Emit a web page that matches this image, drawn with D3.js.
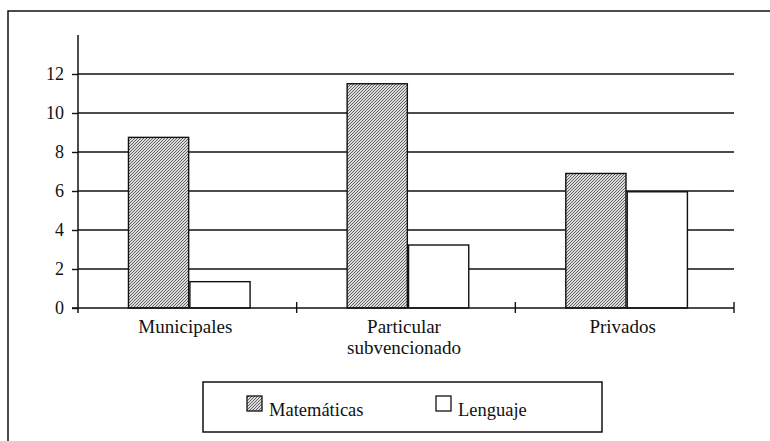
<!DOCTYPE html>
<html><head><meta charset="utf-8">
<script src="https://cdn.jsdelivr.net/npm/d3@7"></script>
<style>body{margin:0;background:#fff}svg{display:block}</style>
</head><body>
<script>
const categories = [["Municipales"], ["Particular", "subvencionado"], ["Privados"]];
const categoryKeys = ["Municipales", "Particular subvencionado", "Privados"];
const seriesNames = ["Matemáticas", "Lenguaje"];
const matematicas = [8.75, 11.5, 6.9];
const lenguaje = [1.35, 3.23, 5.96];
const yTicks = [0, 2, 4, 6, 8, 10, 12];

const FONT = '"Liberation Serif"';
const W = 770, H = 441;
const svg = d3.select("body").append("svg").attr("width", W).attr("height", H);
const defs = svg.append("defs");
const pat = defs.append("pattern").attr("id", "hatch").attr("patternUnits", "userSpaceOnUse")
  .attr("width", 3).attr("height", 3);
pat.append("rect").attr("width", 3).attr("height", 3).attr("fill", "#dcdcdc");
pat.append("path").attr("d", "M-1,1 l2,-2 M0,3 l3,-3 M2,4 l2,-2").attr("stroke", "#555").attr("stroke-width", 0.9);

// outer frame
svg.append("rect").attr("x", 8).attr("y", 11).attr("width", 800).attr("height", 500)
  .attr("fill", "none").attr("stroke", "#111").attr("stroke-width", 1.5);

const pLeft = 78, pRight = 734, pTop = 35, pBottom = 308;
const y = d3.scaleLinear().domain([0, 14]).range([pBottom, pTop]);
const x0 = d3.scaleBand().domain(categoryKeys).range([pLeft, pRight]).paddingInner(0).paddingOuter(0);
const x1 = d3.scaleBand().domain(seriesNames).range([0, x0.bandwidth()]).paddingInner(0.02).paddingOuter(0.79).align(0.52);

// gridlines
svg.append("g").selectAll("line").data(yTicks.filter(d => d > 0)).join("line")
  .attr("x1", pLeft).attr("x2", pRight).attr("y1", d => y(d)).attr("y2", d => y(d))
  .attr("stroke", "#111").attr("stroke-width", 1.4);

// bars
const data = categoryKeys.map((c, i) => ({ c, vals: [matematicas[i], lenguaje[i]] }));
const g = svg.append("g");
data.forEach(d => {
  g.selectAll(null).data(d.vals.map((v, j) => ({ s: seriesNames[j], v }))).join("rect")
    .attr("x", e => x0(d.c) + x1(e.s))
    .attr("width", x1.bandwidth())
    .attr("y", e => y(e.v))
    .attr("height", e => y(0) - y(e.v))
    .attr("fill", e => e.s === seriesNames[0] ? "url(#hatch)" : "#fff")
    .attr("stroke", "#111").attr("stroke-width", 1.4);
});

// y axis
const yAxis = d3.axisLeft(y).tickValues(yTicks).tickSize(6).tickPadding(8).tickFormat(d3.format("d"));
const ya = svg.append("g").attr("transform", `translate(${pLeft},0)`).call(yAxis);
ya.attr("font-family", null);
ya.select(".domain").remove();
ya.selectAll(".tick line").attr("stroke", "#111").attr("stroke-width", 1.4);
ya.selectAll("text").style("font-family", FONT).attr("font-size", 18).attr("fill", "#111");
svg.append("line").attr("x1", pLeft).attr("x2", pLeft).attr("y1", pTop).attr("y2", pBottom + 5)
  .attr("stroke", "#111").attr("stroke-width", 1.5);

// x axis
svg.append("line").attr("x1", pLeft - 6).attr("x2", pRight).attr("y1", pBottom).attr("y2", pBottom)
  .attr("stroke", "#111").attr("stroke-width", 1.5);
const bounds = categoryKeys.map(c => x0(c) + x0.bandwidth());
svg.append("g").selectAll("line").data(bounds).join("line")
  .attr("x1", d => d).attr("x2", d => d).attr("y1", pBottom - 6).attr("y2", pBottom + 5)
  .attr("stroke", "#111").attr("stroke-width", 1.4);
svg.append("g").selectAll("text").data(categoryKeys).join("text")
  .attr("x", c => x0(c) + x0.bandwidth() / 2).attr("y", 333)
  .attr("text-anchor", "middle").style("font-family", FONT).attr("font-size", 19).attr("fill", "#111")
  .each(function(c, i) {
    d3.select(this).selectAll("tspan").data(categories[i]).join("tspan")
      .attr("x", x0(c) + x0.bandwidth() / 2 - 2).attr("dy", (t, k) => k === 0 ? 0 : 21).text(t => t);
  });

// legend
const lg = svg.append("g");
lg.append("rect").attr("x", 203).attr("y", 382).attr("width", 399).attr("height", 50)
  .attr("fill", "#fff").attr("stroke", "#111").attr("stroke-width", 1.5);
const legendX = [247, 436];
seriesNames.forEach((s, i) => {
  lg.append("rect").attr("x", legendX[i]).attr("y", 396).attr("width", 15).attr("height", 15)
    .attr("fill", i === 0 ? "url(#hatch)" : "#fff").attr("stroke", "#111").attr("stroke-width", 1.3);
  lg.append("text").attr("x", legendX[i] + 22).attr("y", 416)
    .style("font-family", FONT).attr("font-size", 18.5).attr("fill", "#111").text(s);
});
</script>
</body></html>
